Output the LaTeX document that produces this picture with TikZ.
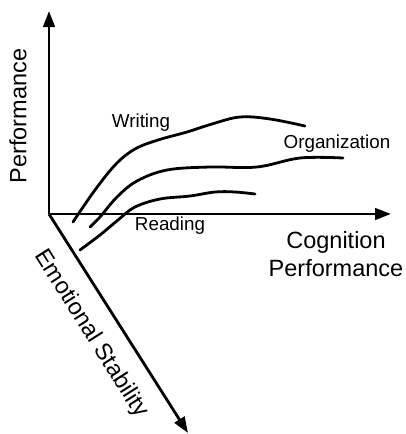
\documentclass[tikz,border=0pt]{standalone}
\usepackage{fontspec}
\setmainfont{Liberation Sans}
\usetikzlibrary{arrows.meta}
\begin{document}
\begin{tikzpicture}[x=1pt,y=-1pt,
  axis/.style={line width=2.8pt,-{Triangle[length=16pt,width=11.5pt]}},
  trend/.style={line width=2.8pt,line cap=round},
  biglabel/.style={font=\fontsize{23.5}{27.5}\selectfont,inner sep=0pt},
  smalllabel/.style={font=\fontsize{18.8}{22}\selectfont,inner sep=0pt}]
\useasboundingbox (0,0) rectangle (406,434);
% axes
\coordinate (O) at (49,214);
\coordinate (ytop) at (49,11);
\coordinate (xend) at (391,214);
\coordinate (zend) at (188,433);
\draw[axis] (O) -- (ytop);
\draw[axis] (O) -- (xend);
\draw[axis] (O) -- (zend);
% trend curves
\draw[trend] plot[smooth,tension=0.6] coordinates {(73,222) (95,190) (116,164) (135,149) (158,140) (187,132) (212,124) (240,117) (270,119) (305,126)};
\draw[trend] plot[smooth,tension=0.6] coordinates {(90,227) (100,217) (117,197) (137,181) (167,170) (210,167) (257,167) (300,158) (343,158)};
\draw[trend] plot[smooth,tension=0.6] coordinates {(80,250) (100,235) (118,220) (135,207) (160,199) (190,196) (215,192) (235,192) (255,194)};
% labels
\node[biglabel,rotate=90] (perf) at (18,116) {Performance};
\node[biglabel,align=center] (cog) at (336,254) {Cognition\\Performance};
\node[biglabel,rotate=-57.7] (emo) at (91,334) {Emotional Stability};
\node[smalllabel] (wr) at (141,123) {Writing};
\node[smalllabel] (org) at (337,144) {Organization};
\node[smalllabel] (rd) at (170,226) {Reading};
\end{tikzpicture}
\end{document}
